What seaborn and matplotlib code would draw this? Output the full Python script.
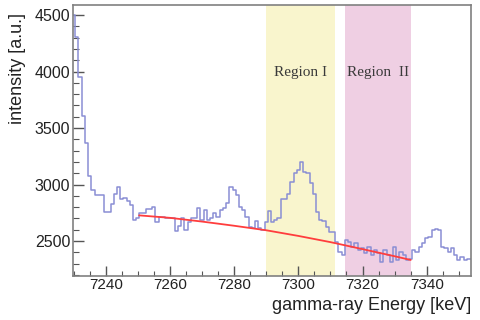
import numpy as np
import pandas as pd
import matplotlib
matplotlib.use("Agg")
import matplotlib.pyplot as plt
from matplotlib.ticker import MultipleLocator
import seaborn as sns

# ---- data ----
energy_start = 7230  # bin centers, 1 keV bins
counts = [
    4500, 4310, 3950, 3610, 3370, 3080, 2950, 2910, 2910, 2910,   # 7230-7239
    2760, 2760, 2830, 2920, 2975, 2870, 2880, 2850, 2820, 2690,   # 7240-7249
    2700, 2745, 2750, 2780, 2780, 2800, 2670, 2715, 2715, 2700,   # 7250-7259
    2700, 2700, 2585, 2630, 2700, 2600, 2670, 2700, 2700, 2790,   # 7260-7269
    2686, 2774, 2686, 2700, 2745, 2715, 2774, 2790, 2833, 2981,   # 7270-7279
    2950, 2907, 2804, 2774, 2715, 2627, 2612, 2680, 2612, 2597,   # 7280-7289
    2671, 2765, 2671, 2686, 2700, 2870, 2870, 2920, 3020, 3100,   # 7290-7299
    3130, 3200, 3110, 3100, 3010, 2920, 2760, 2686, 2680, 2627,   # 7300-7309
    2583, 2583, 2494, 2400, 2376, 2509, 2494, 2450, 2480, 2420,   # 7310-7319
    2435, 2390, 2450, 2376, 2420, 2390, 2317, 2420, 2376, 2317,   # 7320-7329
    2450, 2330, 2406, 2376, 2332, 2340, 2420, 2406, 2450, 2480,   # 7330-7339
    2524, 2538, 2597, 2603, 2600, 2450, 2435, 2406, 2435, 2376,   # 7340-7349
    2332, 2361, 2332, 2340, 2340,                                 # 7350-7354
]
energies = [energy_start + i for i in range(len(counts))]

fit_energy = [7250.4, 7260, 7270, 7280, 7290, 7300, 7310, 7320, 7330, 7335]
fit_value = [2727, 2705, 2672, 2635, 2595, 2545, 2490, 2428, 2365, 2332]

region1 = (7290, 7311.5)
region2 = (7314.5, 7335)
region_labels = ["Region I", "Region  II"]
x_label = "gamma-ray Energy [keV]"
y_label = "intensity [a.u.]"

# ---- plot ----
sns.set_theme(style="white")
plt.rcParams["font.family"] = ["Liberation Sans", "DejaVu Sans"]

fig = plt.figure(figsize=(4.81, 3.20), dpi=100)
ax = fig.add_axes([73 / 481, 1 - 276 / 320, (471 - 73) / 481, (276 - 5) / 320])

ax.axvspan(*region1, color="#f9f5cd", lw=0, zorder=0)
ax.axvspan(*region2, color="#efcfe3", lw=0, zorder=0)

df = pd.DataFrame({"energy": energies, "counts": counts})
sns.histplot(data=df, x="energy", weights="counts", binwidth=1,
             binrange=(energy_start - 0.5, energies[-1] + 0.5),
             element="step", fill=False, color="#8a8ed4", linewidth=1.1, ax=ax)

fit_df = pd.DataFrame({"energy": fit_energy, "value": fit_value})
sns.lineplot(data=fit_df, x="energy", y="value", color="#ff3d3d",
             linewidth=1.3, ax=ax, zorder=3)

ax.text(np.mean(region1), 3990, region_labels[0], family="Liberation Serif",
        fontsize=11, color="#3a3a3a", ha="center", va="center")
ax.text(np.mean(region2), 3990, region_labels[1], family="Liberation Serif",
        fontsize=11, color="#3a3a3a", ha="center", va="center")

ax.set_xlim(7229.8, 7353.8)
ax.set_ylim(2190, 4590)
ax.xaxis.set_major_locator(MultipleLocator(20))
ax.xaxis.set_minor_locator(MultipleLocator(5))
ax.yaxis.set_major_locator(MultipleLocator(500))
ax.yaxis.set_minor_locator(MultipleLocator(100))

ax.tick_params(axis="both", which="both", direction="in", colors="#555555",
               labelcolor="#222222", labelsize=11)
ax.tick_params(axis="x", which="major", length=7, width=1, pad=1.5)
ax.tick_params(axis="x", which="minor", length=3.5, width=0.8)
ax.tick_params(axis="y", which="major", length=8, width=1, pad=2)
ax.tick_params(axis="y", which="minor", length=4.5, width=0.8)
ax.tick_params(bottom=True, left=True, which="both")
ax.tick_params(axis="y", labelsize=11.5)

for s in ax.spines.values():
    s.set_color("#808080")
    s.set_linewidth(1.2)

ax.set_xlabel("")
ax.set_ylabel("")
fig.text(17.5 / 481, 1 - 69 / 320, y_label, rotation=90, fontsize=13,
         ha="center", va="center", color="#222222")
fig.text(471 / 481, 1 - 305 / 320, x_label, fontsize=13,
         ha="right", va="center", color="#222222")

fig.savefig("out.png", dpi=100, facecolor="white")
